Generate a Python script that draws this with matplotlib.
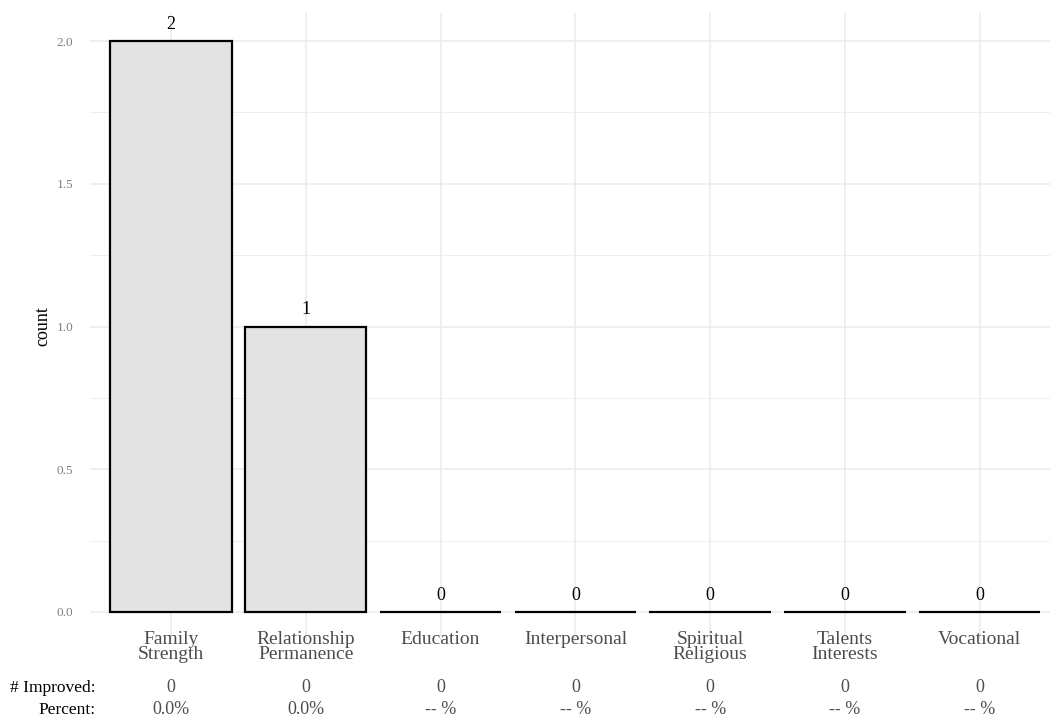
import numpy as np
import matplotlib.pyplot as plt
from matplotlib.ticker import MultipleLocator
import matplotlib.transforms as mtransforms

plt.rcParams['font.family'] = ['Liberation Serif', 'DejaVu Serif']

categories = ['Family\nStrength', 'Relationship\nPermanence', 'Education', 'Interpersonal',
              'Spiritual\nReligious', 'Talents\nInterests', 'Vocational']
counts = [2, 1, 0, 0, 0, 0, 0]
improved = ['0', '0', '0', '0', '0', '0', '0']
percent = ['0.0%', '0.0%', '-- %', '-- %', '-- %', '-- %', '-- %']

W, H = 1050, 721
fig = plt.figure(figsize=(W / 100, H / 100), dpi=100)
ax = fig.add_axes([90 / W, (H - 640.5) / H, (W - 90) / W, 628 / H])

x = np.arange(len(categories))
ax.bar(x, counts, width=0.9, color='#E3E3E3', edgecolor='black', linewidth=1.6, zorder=3)
for xi, c in zip(x, counts):
    ax.annotate(str(c), (xi, c), xytext=(0, 6), textcoords='offset points',
                ha='center', va='bottom', fontsize=13, color='black')

ax.set_xlim(-0.6, (1050 - 171) / 134.8)
ax.set_ylim(-0.1, 2.1)
ax.set_xticks(x)
ax.set_xticklabels(categories, fontsize=14, color='#4D4D4D', linespacing=0.9)
ax.set_yticks([0, 0.5, 1.0, 1.5, 2.0])
ax.set_yticklabels(['0.0', '0.5', '1.0', '1.5', '2.0'], fontsize=9.5, color='#7F7F7F')
ax.yaxis.set_minor_locator(MultipleLocator(0.25))
ax.tick_params(axis='both', which='both', length=0)
ax.tick_params(axis='x', pad=-7)
ax.tick_params(axis='y', pad=12)
ax.grid(True, which='major', color='#EBEBEB', linewidth=1.1, zorder=0)
ax.grid(True, which='minor', axis='y', color='#EBEBEB', linewidth=0.6, zorder=0)
ax.set_axisbelow(True)
for s in ax.spines.values():
    s.set_visible(False)
ax.set_ylabel('count', fontsize=13, labelpad=4)

# extra rows under the category labels
trans = mtransforms.blended_transform_factory(ax.transData, fig.transFigure)
for xi, imp, pct in zip(x, improved, percent):
    ax.text(xi, 1 - 688 / H, imp, transform=trans, ha='center', va='center',
            fontsize=13, color='#4D4D4D')
    ax.text(xi, 1 - 710 / H, pct, transform=trans, ha='center', va='center',
            fontsize=13, color='#4D4D4D')
fig.text(95 / W, 1 - 688 / H, '# Improved:', ha='right', va='center', fontsize=12.5)
fig.text(95 / W, 1 - 710 / H, 'Percent:', ha='right', va='center', fontsize=12.5)

# title sits above the visible area, only the descenders peek in
fig.text(560 / W, 1 + 1 / H, 'Strengths Improving', ha='right', va='bottom',
         fontsize=15, fontweight='bold')

fig.savefig('out.png', dpi=100)
